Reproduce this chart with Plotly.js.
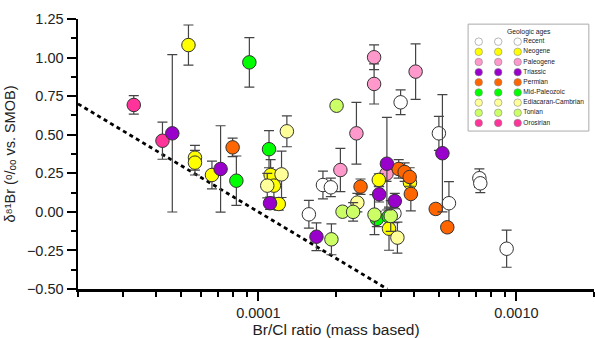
<!DOCTYPE html>
<html>
<head>
<meta charset="utf-8">
<script src="https://cdn.plot.ly/plotly-3.0.1.min.js"></script>
<style>html,body{margin:0;padding:0;background:#fff;}#chart{width:595px;height:338px;}</style>
</head>
<body>
<div id="chart"></div>
<script>
// ---- data ----
const categories = ["Recent","Neogene","Paleogene","Triassic","Permian","Mid-Paleozoic","Ediacaran-Cambrian","Tonian","Orosirian"];
const colors = ["#FFFFFF","#FFFF00","#FF99CC","#9900CC","#FF6600","#00FF00","#FFFF99","#CCFF66","#FF3399"];

const recentX = [1.57e-4, 1.78e-4, 1.91e-4, 3.37e-4, 3.56e-4, 5.01e-4, 5.48e-4, 7.19e-4, 7.25e-4, 9.17e-4];
const recentY = [-0.016, 0.174, 0.159, -0.01, 0.71, 0.509, 0.056, 0.218, 0.185, -0.239];
const recentErr = [0.09, 0.09, 0.06, 0.06, 0.08, 0.11, 0.14, 0.06, 0.06, 0.12];

const neogeneX = [5.36e-5, 5.68e-5, 5.68e-5, 6.61e-5, 1.116e-4, 1.149e-4, 1.20e-4, 2.93e-4, 3.21e-4, 3.87e-4];
const neogeneY = [1.081, 0.351, 0.319, 0.239, 0.239, 0.17, 0.051, 0.207, -0.109, 0.189];
const neogeneErr = [0.13, 0.08, 0.08, 0.09, 0.10, 0.10, 0.04, 0.04, 0.14, 0.05];

const paleogeneX = [2.08e-4, 2.40e-4, 2.81e-4, 2.81e-4, 3.14e-4, 4.07e-4];
const paleogeneY = [0.271, 0.509, 1.002, 0.829, 0.247, 0.909];
const paleogeneErr = [0.14, 0.20, 0.08, 0.13, 0.05, 0.18];

const triassicX = [4.64e-5, 7.14e-5, 1.11e-4, 1.68e-4, 2.94e-4, 3.15e-4, 3.38e-4, 5.17e-4];
const triassicY = [0.509, 0.278, 0.056, -0.161, 0.114, 0.312, 0.07, 0.38];
const triassicErr = [0.51, 0.28, 0.04, 0.09, 0.05, 0.30, 0.05, 0.38];

const permianX = [7.95e-5, 2.49e-4, 3.50e-4, 3.69e-4, 3.86e-4, 3.90e-4, 4.87e-4, 5.40e-4];
const permianY = [0.418, 0.163, 0.278, 0.258, 0.226, 0.116, 0.019, -0.10];
const permianErr = [0.06, 0.05, 0.06, 0.06, 0.06, 0.11, 0.03, 0.03];

const midPaleozoicX = [8.22e-5, 9.23e-5, 1.10e-4, 2.88e-4, 3.20e-4];
const midPaleozoicY = [0.202, 0.969, 0.406, -0.046, -0.03];
const midPaleozoicErr = [0.16, 0.16, 0.12, 0.05, 0.05];

const ediacaranX = [1.083e-4, 1.23e-4, 1.29e-4, 2.42e-4, 3.46e-4];
const ediacaranY = [0.17, 0.243, 0.522, 0.06, -0.167];
const ediacaranErr = [0.08, 0.15, 0.10, 0.06, 0.10];

const tonianX = [1.92e-4, 2.01e-4, 2.12e-4, 2.33e-4, 2.82e-4, 3.26e-4];
const tonianY = [-0.178, 0.688, 0.001, 0.0, -0.018, -0.027];
const tonianErr = [0.10, 0.02, 0.02, 0.06, 0.13, 0.10];

const orosirianX = [3.29e-5, 4.25e-5];
const orosirianY = [0.693, 0.461];
const orosirianErr = [0.06, 0.12];

const trendX = [2.0e-5, 3.16e-4];
const trendY = [0.70, -0.50];

const xTickVals = [1e-4, 1e-3];
const xTickText = ["0.0001", "0.0010"];
const xMinorVals = [2e-5,3e-5,4e-5,5e-5,6e-5,7e-5,8e-5,9e-5,2e-4,3e-4,4e-4,5e-4,6e-4,7e-4,8e-4,9e-4,2e-3];

// ---- build ----
const series = {
  "Recent": [recentX, recentY, recentErr],
  "Neogene": [neogeneX, neogeneY, neogeneErr],
  "Paleogene": [paleogeneX, paleogeneY, paleogeneErr],
  "Triassic": [triassicX, triassicY, triassicErr],
  "Permian": [permianX, permianY, permianErr],
  "Mid-Paleozoic": [midPaleozoicX, midPaleozoicY, midPaleozoicErr],
  "Ediacaran-Cambrian": [ediacaranX, ediacaranY, ediacaranErr],
  "Tonian": [tonianX, tonianY, tonianErr],
  "Orosirian": [orosirianX, orosirianY, orosirianErr]
};
const drawOrder = ["Orosirian","Recent","Mid-Paleozoic","Paleogene","Neogene","Permian","Ediacaran-Cambrian","Tonian","Triassic"];

const traces = [];
traces.push({
  x: trendX, y: trendY, type: "scatter", mode: "lines", showlegend: false,
  line: {color: "#000", width: 2.8, dash: "4px,3.5px"}, hoverinfo: "skip"
});
drawOrder.forEach(name => {
  const i = categories.indexOf(name);
  const d = series[name];
  traces.push({
    x: d[0], y: d[1], type: "scatter", mode: "markers", name: name, showlegend: false,
    error_y: {type: "data", array: d[2], visible: true, color: "#444", thickness: 1.2, width: 5},
    marker: {size: 13.5, color: colors[i], line: {color: "#333", width: 1}}
  });
});

// manual legend swatches on a hidden overlay axis
const sx = [], sy = [], sc = [];
const tx = [], ty = [], tc = [];
categories.forEach((c, i) => {
  for (let col = 0; col < 2; col++) { sx.push(col); sy.push(i); sc.push(colors[i]); }
  tx.push(2); ty.push(i); tc.push(colors[i]);
});
const swatchMarker = {size: 7.5, line: {color: "#888", width: 0.6}};
traces.push({
  x: sx, y: sy, xaxis: "x2", yaxis: "y2", type: "scatter", mode: "markers",
  cliponaxis: false, showlegend: false, hoverinfo: "skip",
  marker: Object.assign({color: sc}, swatchMarker)
});
traces.push({
  x: tx, y: ty, xaxis: "x2", yaxis: "y2", type: "scatter", mode: "markers+text",
  text: categories, textposition: "middle right", cliponaxis: false, showlegend: false, hoverinfo: "skip",
  textfont: {size: 6.6, color: "#222", family: "Liberation Sans, Arial, sans-serif"},
  marker: Object.assign({color: tc}, swatchMarker)
});

const font = "Liberation Sans, Arial, sans-serif";
const layout = {
  width: 595, height: 338,
  margin: {l: 78, r: 1, t: 19, b: 49},
  paper_bgcolor: "#fff", plot_bgcolor: "#fff",
  font: {family: font, color: "#222", size: 14.5},
  showlegend: false,
  xaxis: {
    type: "log", range: [Math.log10(2e-5), Math.log10(2e-3)],
    tickmode: "array", tickvals: xTickVals, ticktext: xTickText,
    ticks: "outside", ticklen: 9, tickwidth: 2, tickcolor: "#000",
    minor: {tickmode: "array", tickvals: xMinorVals, ticks: "outside", ticklen: 5, tickwidth: 2, tickcolor: "#000", showgrid: false},
    showline: true, linewidth: 2.5, linecolor: "#000", showgrid: false, zeroline: false,
    tickfont: {size: 14.5, color: "#222"},
    title: {text: "Br/Cl ratio (mass based)", font: {size: 15.5, color: "#222"}, standoff: 6}
  },
  yaxis: {
    range: [-0.5, 1.25], tick0: 0, dtick: 0.25, tickformat: ".2f",
    ticks: "outside", ticklen: 9, tickwidth: 2, tickcolor: "#000",
    minor: {dtick: 0.125, ticks: "outside", ticklen: 5, tickwidth: 2, tickcolor: "#000", showgrid: false},
    showline: true, linewidth: 2.5, linecolor: "#000", showgrid: false, zeroline: false,
    tickfont: {size: 14.5, color: "#222"},
    title: {text: "δ⁸¹Br (ᵒ/ₒₒ vs. SMOB)", font: {size: 14.5, color: "#222"}, standoff: 8}
  },
  xaxis2: {domain: [0.7766, 0.8521], range: [0, 2], visible: false, anchor: "y2", fixedrange: true},
  yaxis2: {domain: [0.615, 0.916], range: [8, 0], visible: false, anchor: "x2", fixedrange: true},
  shapes: [{type: "rect", xref: "paper", yref: "paper", x0: 0.756, x1: 0.990, y0: 0.585, y1: 0.981,
            line: {color: "#aaa", width: 1}, fillcolor: "rgba(0,0,0,0)"}],
  annotations: [{text: "Geologic ages", xref: "paper", yref: "paper", x: 0.874, y: 0.952,
                 showarrow: false, font: {size: 6.8, color: "#222"}, xanchor: "center", yanchor: "middle"}]
};

Plotly.newPlot("chart", traces, layout, {displayModeBar: false, staticPlot: true});
</script>
</body>
</html>
